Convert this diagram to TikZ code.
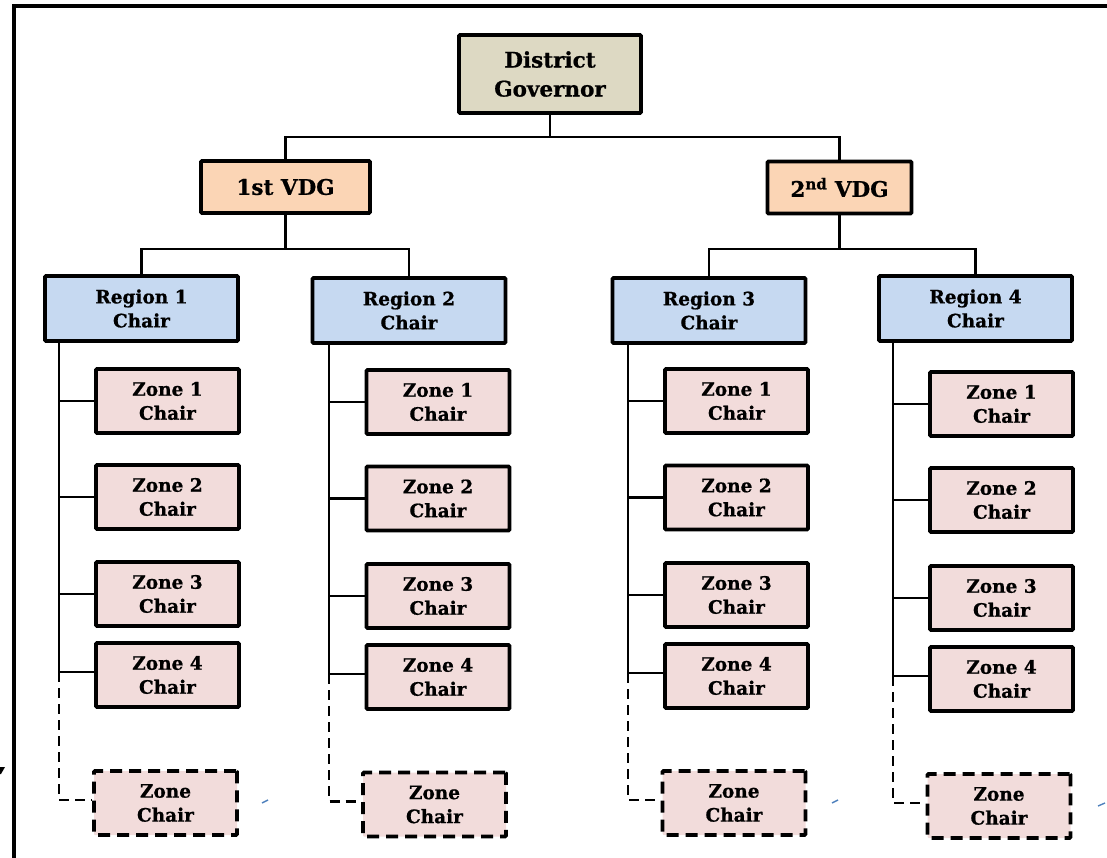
\documentclass[tikz,border=0pt]{standalone}
\usepackage{fontspec}
\setmainfont{DejaVu Serif}[BoldFeatures={FakeBold=0.8}]
\begin{document}
\begin{tikzpicture}[x=1pt,y=-1pt,
  box/.style={draw=black,line width=3.6pt,rounded corners=1pt,align=center,inner sep=0pt,font=\bfseries\fontsize{18.5}{24}\selectfont},
  dgbox/.style={box,fill=dgcol,minimum width=182pt,minimum height=78pt,font=\bfseries\fontsize{21.5}{29}\selectfont},
  vdgbox/.style={box,fill=vdgcol,minimum height=52pt,font=\bfseries\fontsize{21.5}{24}\selectfont},
  regbox/.style={box,fill=regcol,minimum width=193pt,minimum height=65pt},
  zonebox/.style={box,fill=zonecol,minimum width=143pt,minimum height=64pt},
  zdbox/.style={zonebox,dash pattern=on 12pt off 7pt},
  conn/.style={draw=black,line width=2.2pt},
  dconn/.style={draw=black,line width=2.6pt,dash pattern=on 10pt off 6pt},
  tick/.style={draw=tickcol,line width=1.4pt}]
\definecolor{dgcol}{HTML}{DDD9C3}
\definecolor{vdgcol}{HTML}{FBD5B5}
\definecolor{regcol}{HTML}{C6D9F1}
\definecolor{zonecol}{HTML}{F2DCDB}
\definecolor{tickcol}{HTML}{4F81BD}
\useasboundingbox (0,0) rectangle (1107,858);
\draw[line width=3.3pt] (1130,6) -- (14,6) -- (14,880);

\node[dgbox] (dg) at (550,74) {District\\Governor};
\node[vdgbox,minimum width=169pt] (v1) at (285.5,187) {1st VDG};
\node[vdgbox,minimum width=144pt] (v2) at (839.5,187.5) {2\textsuperscript{nd} VDG};

\draw[conn] (dg.south) -- ++(0,22) coordinate (j0);
\draw[conn] (v1.north) |- (j0) -| (v2.north);

\node[regbox] (r1) at (141.5,308.5) {Region 1\\Chair};
\node[regbox] (r2) at (409,310.5) {Region 2\\Chair};
\node[regbox] (r3) at (709,310.5) {Region 3\\Chair};
\node[regbox] (r4) at (975.5,308.5) {Region 4\\Chair};

\draw[conn] (v1.south) -- ++(0,34) coordinate (j1);
\draw[conn] (r1.north) |- (j1) -| (r2.north);
\draw[conn] (v2.south) -- ++(0,34) coordinate (j2);
\draw[conn] (r3.north) |- (j2) -| (r4.north);

% columns: region, zone centre x, trunk x, y of zones 1-4, dashed box centre
\foreach \c/\zx/\tx/\ya/\yb/\yc/\yd/\dx/\dy in {1/167.5/59/401/497/594/675/165.5/803, 2/438/329/402/498.5/596/677/434.5/804.5, 3/736.5/628/401/497.5/595/676/734/803, 4/1001.5/893/404/500/598/679/999/806}{
  \node[zonebox] (z\c a) at (\zx,\ya) {Zone 1\\Chair};
  \node[zonebox] (z\c b) at (\zx,\yb) {Zone 2\\Chair};
  \node[zonebox] (z\c c) at (\zx,\yc) {Zone 3\\Chair};
  \node[zonebox] (z\c d) at (\zx,\yd) {Zone 4\\Chair};
  \node[zdbox] (z\c e) at (\dx,\dy) {Zone\\Chair};
  \coordinate (t\c) at (\tx,0);
  \draw[conn] (r\c.south -| t\c) -- ([yshift=3pt]z\c d.west -| t\c);
  \foreach \z in {a,b,c}{\draw[conn] (z\c\z.west) -- (z\c\z.west -| t\c);}
  \draw[conn] ([yshift=3pt]z\c d.west) -- ([yshift=3pt]z\c d.west -| t\c);
  \draw[dconn] ([yshift=3pt]z\c d.west -| t\c) |- ([yshift=3pt]z\c e.west);
}

\draw[tick] (262,803) -- (268,800);
\draw[tick] (832,803) -- (838,800);
\draw[tick] (1098,806) -- (1105,803);
\fill (0,767) -- (5,767) -- (1,774) -- (0,774) -- cycle;
\end{tikzpicture}
\end{document}
